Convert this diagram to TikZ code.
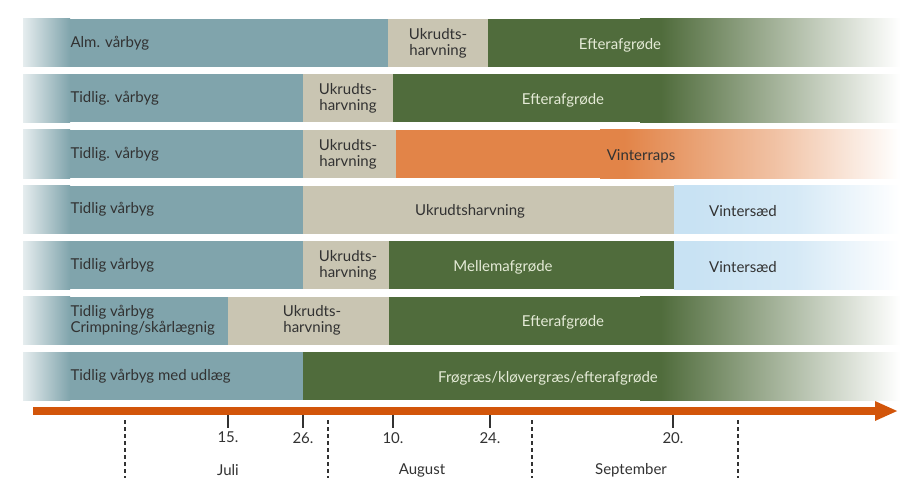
\documentclass[tikz,border=0pt]{standalone}
\usepackage{fontspec}
\setmainfont{Lato}
\usetikzlibrary{arrows.meta}

\definecolor{byg}{RGB}{128,164,172}
\definecolor{ukrudt}{RGB}{201,197,178}
\definecolor{efter}{RGB}{80,108,60}
\definecolor{raps}{RGB}{226,132,72}
\definecolor{saed}{RGB}{200,226,243}
\definecolor{akseorange}{RGB}{210,85,10}
\definecolor{tekstgraa}{RGB}{50,50,50}
\definecolor{tekstlys}{RGB}{228,234,214}

%% Overgange (kun 25bp..75bp fylder stien)
\pgfdeclarehorizontalshading{indbyg}{100bp}{color(0bp)=(white!80!byg); color(25bp)=(white!80!byg); color(75bp)=(byg); color(100bp)=(byg)}
\pgfdeclarehorizontalshading{udefter}{100bp}{color(0bp)=(efter); color(29bp)=(efter); color(52bp)=(efter!50!white); color(75bp)=(white); color(100bp)=(white)}
\pgfdeclarehorizontalshading{udraps}{100bp}{color(0bp)=(raps); color(29bp)=(raps); color(54bp)=(raps!50!white); color(75bp)=(white); color(100bp)=(white)}
\pgfdeclarehorizontalshading{udsaed}{100bp}{color(0bp)=(saed); color(29bp)=(saed); color(52bp)=(saed!75!white); color(75bp)=(white); color(100bp)=(white)}

\begin{document}
\begin{tikzpicture}[x=1pt, y=-1pt,
	font=\fontsize{15}{16}\selectfont,
	navn/.style={text=tekstgraa, anchor=west, align=left},
	midt/.style={text=tekstgraa, align=center},
	lys/.style={text=tekstlys},
	akse/.style={akseorange, line width=8pt, -{Triangle[length=23pt, width=18pt]}},
	streg/.style={tekstgraa, line width=1.6pt},
	skille/.style={tekstgraa, line width=1.8pt, dash pattern=on 4pt off 3pt}]

\useasboundingbox (0,0) rectangle (906,495);

%% Alm. vaarbyg
\begin{scope}[shift={(0,19)}]
	\shade[shading=indbyg] (23,0) rectangle (70,48);
	\fill[byg] (69.5,0) rectangle (388,48);
	\fill[ukrudt] (388,0) rectangle (488,48);
	\fill[efter] (488,0) rectangle (640.5,48);
	\shade[shading=udefter] (640,0) rectangle (900,48);
	\node[navn] (alm) at (67,24) {Alm. vårbyg};
	\node[midt] (harv1) at (438,24) {Ukrudts-\\harvning};
	\node[lys] (efter1) at (620,26) {Efterafgrøde};
\end{scope}

%% Tidlig. vaarbyg, efterafgroede
\begin{scope}[shift={(0,74.5)}]
	\shade[shading=indbyg] (23,0) rectangle (70,48);
	\fill[byg] (69.5,0) rectangle (303,48);
	\fill[ukrudt] (303,0) rectangle (393,48);
	\fill[efter] (393,0) rectangle (640.5,48);
	\shade[shading=udefter] (640,0) rectangle (900,48);
	\node[navn] (tidlig2) at (67,24) {Tidlig. vårbyg};
	\node[midt] (harv2) at (348,24) {Ukrudts-\\harvning};
	\node[lys] (efter2) at (563,26) {Efterafgrøde};
\end{scope}

%% Tidlig. vaarbyg, vinterraps
\begin{scope}[shift={(0,130)}]
	\shade[shading=indbyg] (23,0) rectangle (70,48);
	\fill[byg] (69.5,0) rectangle (303,48);
	\fill[ukrudt] (303,0) rectangle (396,48);
	\fill[raps] (396,0) rectangle (600.5,48);
	\shade[shading=udraps] (600,0) rectangle (900,48);
	\node[navn] (tidlig3) at (67,24) {Tidlig. vårbyg};
	\node[midt] (harv3) at (348,24) {Ukrudts-\\harvning};
	\node[text=tekstgraa] (raps3) at (641,26) {Vinterraps};
\end{scope}

%% Tidlig vaarbyg, ukrudtsharvning
\begin{scope}[shift={(0,185.5)}]
	\shade[shading=indbyg] (23,0) rectangle (70,48);
	\fill[byg] (69.5,0) rectangle (303,48);
	\fill[ukrudt] (303,0) rectangle (674,48);
	\shade[shading=udsaed] (674,0) rectangle (900,48);
	\node[navn] (tidlig4) at (67,24) {Tidlig vårbyg};
	\node[midt] (harv4) at (470,26) {Ukrudtsharvning};
	\node[text=tekstgraa] (saed4) at (743,26) {Vintersæd};
\end{scope}

%% Tidlig vaarbyg, mellemafgroede
\begin{scope}[shift={(0,241)}]
	\shade[shading=indbyg] (23,0) rectangle (70,48);
	\fill[byg] (69.5,0) rectangle (303,48);
	\fill[ukrudt] (303,0) rectangle (389,48);
	\fill[efter] (389,0) rectangle (674,48);
	\shade[shading=udsaed] (674,0) rectangle (900,48);
	\node[navn] (tidlig5) at (67,24) {Tidlig vårbyg};
	\node[midt] (harv5) at (348,24) {Ukrudts-\\harvning};
	\node[lys] (mellem5) at (503,26) {Mellemafgrøde};
	\node[text=tekstgraa] (saed5) at (743,26) {Vintersæd};
\end{scope}

%% Crimpning
\begin{scope}[shift={(0,296.5)}]
	\shade[shading=indbyg] (23,0) rectangle (70,48);
	\fill[byg] (69.5,0) rectangle (228,48);
	\fill[ukrudt] (228,0) rectangle (389,48);
	\fill[efter] (389,0) rectangle (640.5,48);
	\shade[shading=udefter] (640,0) rectangle (900,48);
	\node[navn] (crimp6) at (67,24) {Tidlig vårbyg\\Crimpning/skårlægnig};
	\node[midt] (harv6) at (312,24) {Ukrudts-\\harvning};
	\node[lys] (efter6) at (563,26) {Efterafgrøde};
\end{scope}

%% Med udlaeg
\begin{scope}[shift={(0,352)}]
	\shade[shading=indbyg] (23,0) rectangle (70,48);
	\fill[byg] (69.5,0) rectangle (303,48);
	\fill[efter] (303,0) rectangle (640.5,48);
	\shade[shading=udefter] (640,0) rectangle (900,48);
	\node[navn] (udlaeg7) at (67,24) {Tidlig vårbyg med udlæg};
	\node[lys] (froe7) at (548,26) {Frøgræs/kløvergræs/efterafgrøde};
\end{scope}

%% Tidsakse
\coordinate (akse0) at (33,411);
\coordinate (akse1) at (898,411);
\draw[akse] (akse0) -- (akse1);

\draw[streg] (228,415) -- (228,428) node[below, text=tekstgraa] (d15) {15.};
\draw[streg] (303,415) -- (303,428) node[below, text=tekstgraa] (d26) {26.};
\draw[streg] (393,415) -- (393,428) node[below, text=tekstgraa] (d10) {10.};
\draw[streg] (490,415) -- (490,428) node[below, text=tekstgraa] (d24) {24.};
\draw[streg] (673,415) -- (673,428) node[below, text=tekstgraa] (d20) {20.};

\draw[skille] (125,420) -- (125,478);
\draw[skille] (328,420) -- (328,478);
\draw[skille] (532,420) -- (532,478);
\draw[skille] (738,420) -- (738,478);

\node[text=tekstgraa] (juli) at (228,470) {Juli};
\node[text=tekstgraa] (aug) at (422,470) {August};
\node[text=tekstgraa] (sep) at (631,470) {September};

\end{tikzpicture}
\end{document}
